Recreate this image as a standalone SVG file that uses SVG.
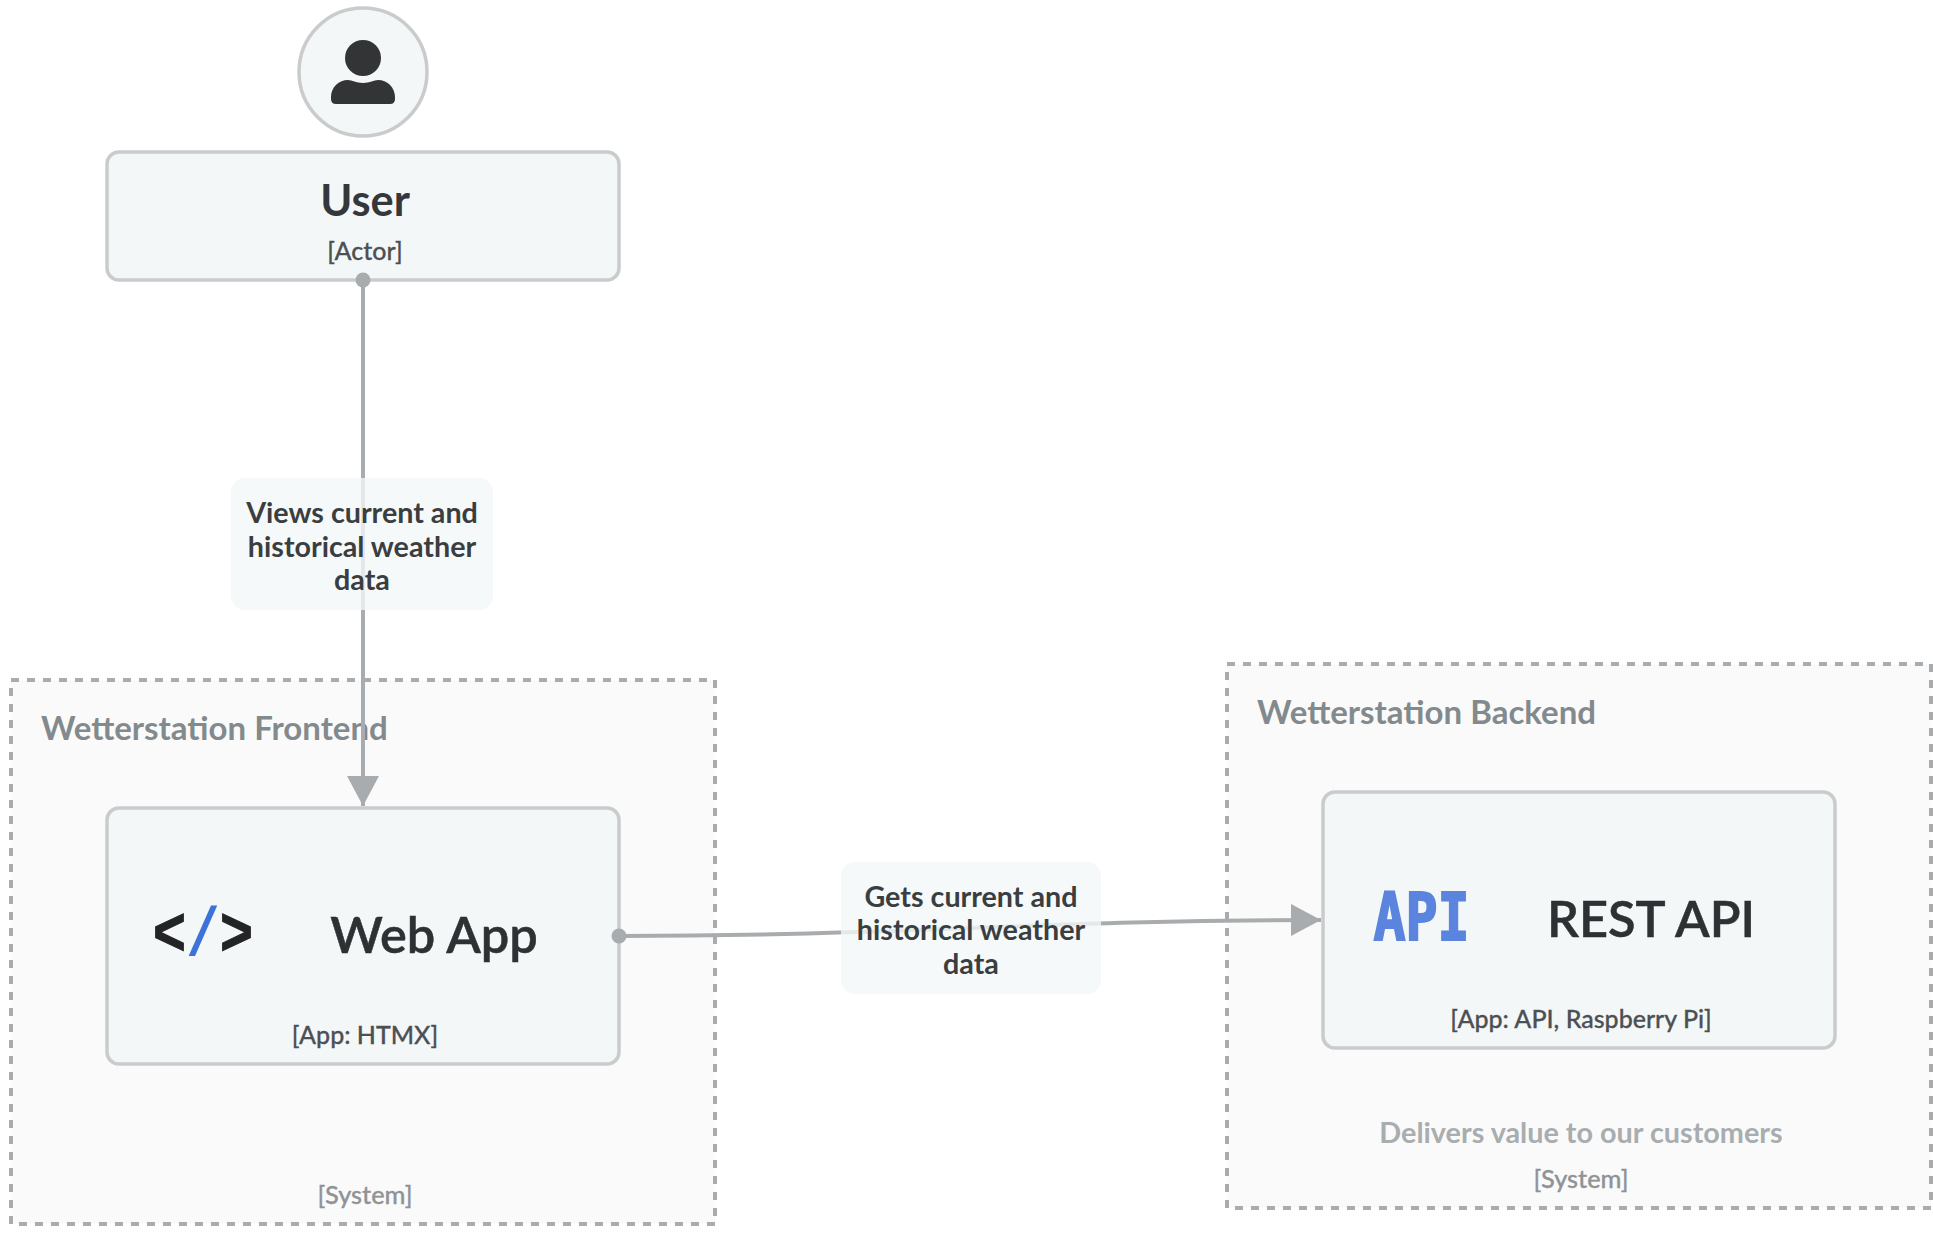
<svg xmlns="http://www.w3.org/2000/svg" width="1933" height="1248" viewBox="0 0 1933 1248">
<style>
text{font-family:Lato,"Noto Sans",sans-serif;text-anchor:middle}
.sys{fill:#fafafa;stroke:#a9acae;stroke-width:4;stroke-dasharray:8 8}
.box{fill:#f4f7f8;stroke:#c9cbcd;stroke-width:3.5}
.title{font-size:43.4px;font-weight:700;fill:#34383a}
.big{font-size:50.5px;font-weight:600;fill:#2d3133;stroke:#2d3133;stroke-width:.5}
.tag{font-size:25px;font-weight:500;fill:#4d5053;stroke:#4d5053;stroke-width:.3}
.sysname{font-size:33px;font-weight:700;fill:#838a8d;text-anchor:start}
.systag{font-size:25.3px;font-weight:500;fill:#8f9396;stroke:#8f9396;stroke-width:.3}
.desc{font-size:28.8px;font-weight:700;fill:#a8adb0}
.conn{fill:none;stroke:#a9acae;stroke-width:4}
.lab{font-size:28.7px;font-weight:700;fill:#3a3e40}
.labbg{fill:#f4f7f8;fill-opacity:.8}
.icon{font-size:68px;font-weight:700;font-family:"Liberation Mono",monospace}
</style>
<defs>
<marker id="arrow" markerUnits="userSpaceOnUse" markerWidth="30" markerHeight="32" refX="30" refY="16" orient="auto"><path d="M0 0L30 16L0 32Z" fill="#a9acae"/></marker>
<marker id="dot" markerUnits="userSpaceOnUse" markerWidth="16" markerHeight="16" refX="8" refY="8" orient="auto"><circle cx="8" cy="8" r="7.5" fill="#a9acae"/></marker>
</defs>
<rect width="1933" height="1248" fill="#fff"/>
<g id="frontend">
<rect class="sys" x="11" y="680" width="704" height="544"/>
<text class="sysname" x="41" y="739.5">Wetterstation Frontend</text>
<text class="systag" x="365" y="1204">[System]</text>
</g>
<g id="backend">
<rect class="sys" x="1227" y="664" width="704" height="544"/>
<text class="sysname" x="1257" y="723.5">Wetterstation Backend</text>
<text class="desc" x="1581" y="1143">Delivers value to our customers</text>
<text class="systag" x="1581" y="1188">[System]</text>
</g>
<g id="user">
<circle cx="363" cy="72" r="64" fill="#f4f7f8" stroke="#c9cbcd" stroke-width="3.5"/>
<circle cx="363" cy="58" r="18" fill="#323436"/>
<path d="M331 99V97C331 87 339 80 348 80C352 80 356 83 363 83C370 83 374 80 378 80C387 80 395 87 395 97V99Q395 104 390 104H336Q331 104 331 99Z" fill="#323436"/>
<rect class="box" x="107" y="152" width="512" height="128" rx="12"/>
<text class="title" x="365" y="216">User</text>
<text class="tag" x="365" y="260">[Actor]</text>
</g>
<g id="webapp">
<rect class="box" x="107" y="808" width="512" height="256" rx="12"/>
<text class="icon" transform="translate(203 955) scale(.82 1)" x="0" y="0" fill="#222426" stroke="#222426" stroke-width="1">&lt;<tspan fill="#3b73d9" stroke="none">/</tspan>&gt;</text>
<text class="big" x="434" y="952.5">Web App</text>
<text class="tag" x="365" y="1044">[App: HTMX]</text>
</g>
<g id="restapi">
<rect class="box" x="1323" y="792" width="512" height="256" rx="12"/>
<text transform="translate(1421.5 940) scale(.82 1)" x="0" y="0" style="font-size:65px;font-weight:700;fill:#5b84de;stroke:#5b84de;stroke-width:2;font-family:'DejaVu Sans Mono',monospace">API</text>
<text class="big" x="1651" y="936.5">REST API</text>
<text class="tag" x="1581" y="1028">[App: API, Raspberry Pi]</text>
</g>
<g id="connectors">
<path class="conn" d="M363 280V806" marker-start="url(#dot)" marker-end="url(#arrow)"/>
<path class="conn" d="M619 936C900 936 1040 920 1321 920" marker-start="url(#dot)" marker-end="url(#arrow)"/>
<g id="label-views">
<rect class="labbg" x="231" y="478" width="262" height="132" rx="14"/>
<text class="lab" x="362" y="523">Views current and</text>
<text class="lab" x="362" y="557">historical weather</text>
<text class="lab" x="362" y="590">data</text>
</g>
<g id="label-gets">
<rect class="labbg" x="841" y="862" width="260" height="132" rx="14"/>
<text class="lab" x="971" y="907">Gets current and</text>
<text class="lab" x="971" y="940">historical weather</text>
<text class="lab" x="971" y="974">data</text>
</g>
</g>
</svg>
